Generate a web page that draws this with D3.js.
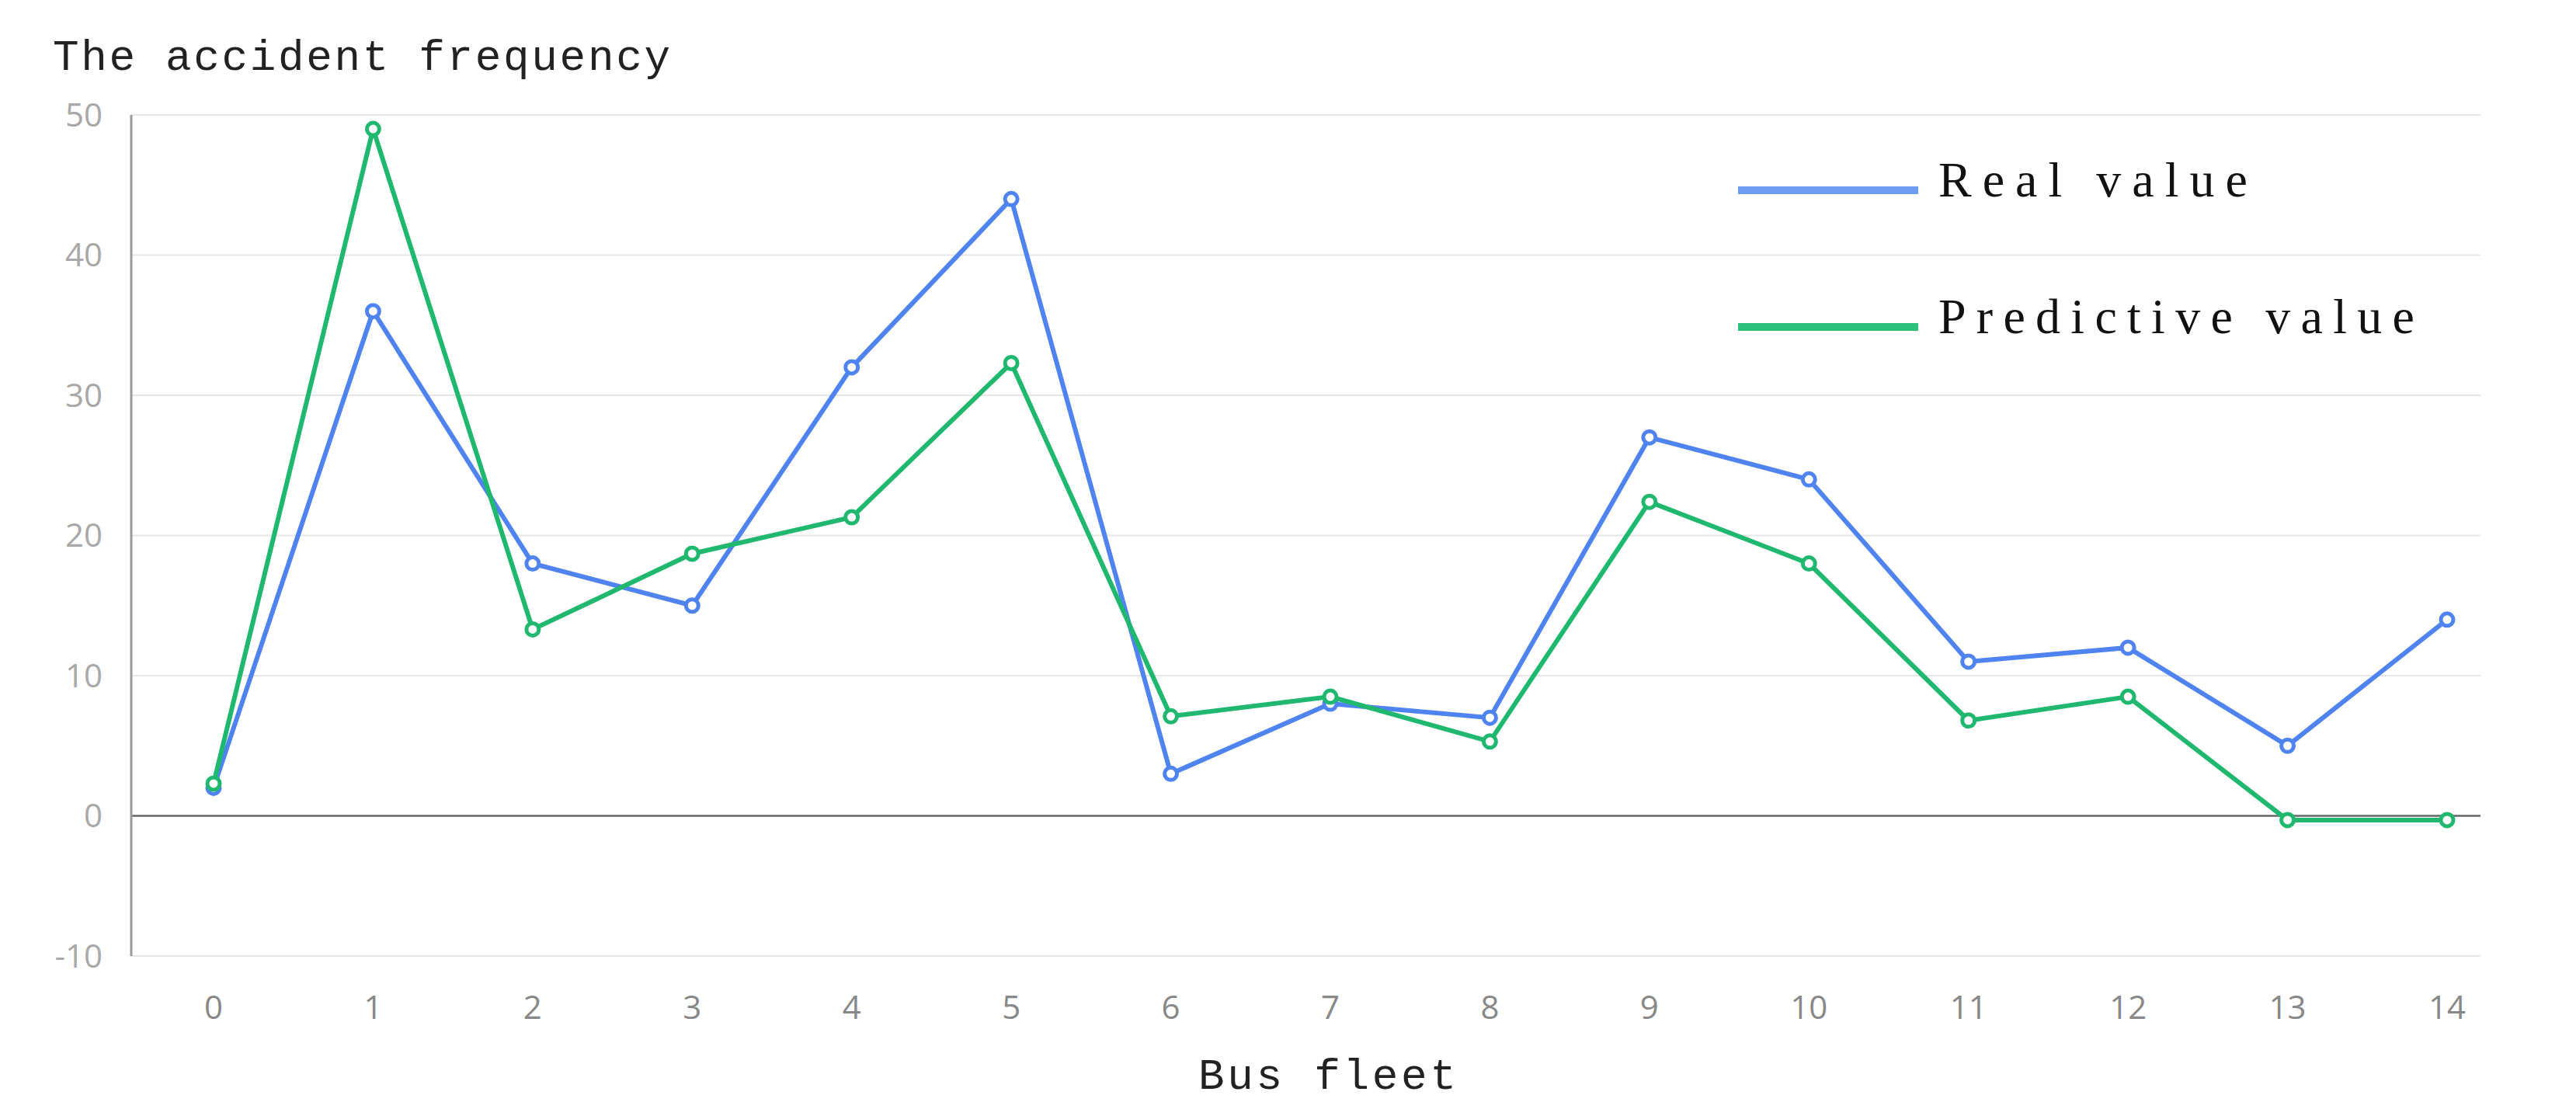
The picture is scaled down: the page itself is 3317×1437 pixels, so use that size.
<!DOCTYPE html><html><head><meta charset="utf-8"><script src="https://cdn.jsdelivr.net/npm/d3@7"></script>
<style>body{margin:0;background:#fff}</style></head><body><svg id="c" width="3317" height="1437"></svg>
<script>
const categories=["0","1","2","3","4","5","6","7","8","9","10","11","12","13","14"];
const realValues=[2,36,18,15,32,44,3,8,7,27,24,11,12,5,14];
const predValues=[2.3,49,13.3,18.7,21.3,32.3,7.1,8.5,5.3,22.4,18,6.8,8.5,-0.3,-0.3];
const yTicks=[-10,0,10,20,30,40,50];
const seriesNames=["Real value","Predictive value"];
const colors=["#4f83f0","#1fb86e"];
const legendColors=["#6d9cf2","#2cc27c"];
const svg=d3.select("#c");
const x=d3.scalePoint().domain(categories).range([275,3151]);
const y=d3.scaleLinear().domain([-10,50]).range([1231,148]);
const L=169,R=3194;
svg.append("g").selectAll("line").data(yTicks).join("line")
 .attr("x1",L).attr("x2",R).attr("y1",d=>y(d)).attr("y2",d=>y(d))
 .attr("stroke",d=>d===0?"#666":"#e6e6e6").attr("stroke-width",d=>d===0?2.5:2);
svg.append("line").attr("x1",L).attr("x2",L).attr("y1",y(50)).attr("y2",y(-10)).attr("stroke","#999").attr("stroke-width",3);
svg.append("g").selectAll("text").data(yTicks).join("text")
 .attr("x",132).attr("y",d=>y(d)).attr("dy","0.35em").attr("text-anchor","end")
 .attr("font-family","Open Sans, sans-serif").attr("font-size",42).attr("fill","#a8a8a8").text(d=>d);
svg.append("g").selectAll("text").data(categories).join("text")
 .attr("x",d=>x(d)).attr("y",1297).attr("dy","0.35em").attr("text-anchor","middle")
 .attr("font-family","Open Sans, sans-serif").attr("font-size",42).attr("fill","#888").text(d=>d);
svg.append("text").attr("x",68).attr("y",90).attr("font-family","Liberation Mono, monospace").attr("font-size",56).attr("fill","#222").attr("textLength",795).text("The accident frequency");
svg.append("text").attr("x",1709).attr("y",1402).attr("text-anchor","middle").attr("font-family","Liberation Mono, monospace").attr("font-size",56).attr("fill","#222").attr("textLength",332).text("Bus fleet");
[realValues,predValues].forEach((vals,k)=>{
 const line=d3.line().x((d,i)=>x(categories[i])).y(d=>y(d));
 svg.append("path").datum(vals).attr("d",line).attr("fill","none").attr("stroke",colors[k]).attr("stroke-width",6);
 svg.append("g").selectAll("circle").data(vals).join("circle").attr("cx",(d,i)=>x(categories[i])).attr("cy",d=>y(d)).attr("r",8)
  .attr("fill","#fff").attr("stroke",colors[k]).attr("stroke-width",5);
});
const ly=[245,421], lw=[398,613];
seriesNames.forEach((n,k)=>{
 svg.append("line").attr("x1",2238).attr("x2",2470).attr("y1",ly[k]).attr("y2",ly[k]).attr("stroke",legendColors[k]).attr("stroke-width",10);
 svg.append("text").attr("x",2496).attr("y",ly[k]+8).attr("font-family","Liberation Serif, serif").attr("font-size",64).attr("fill","#111").attr("textLength",lw[k]).text(n);
});
</script></body></html>
